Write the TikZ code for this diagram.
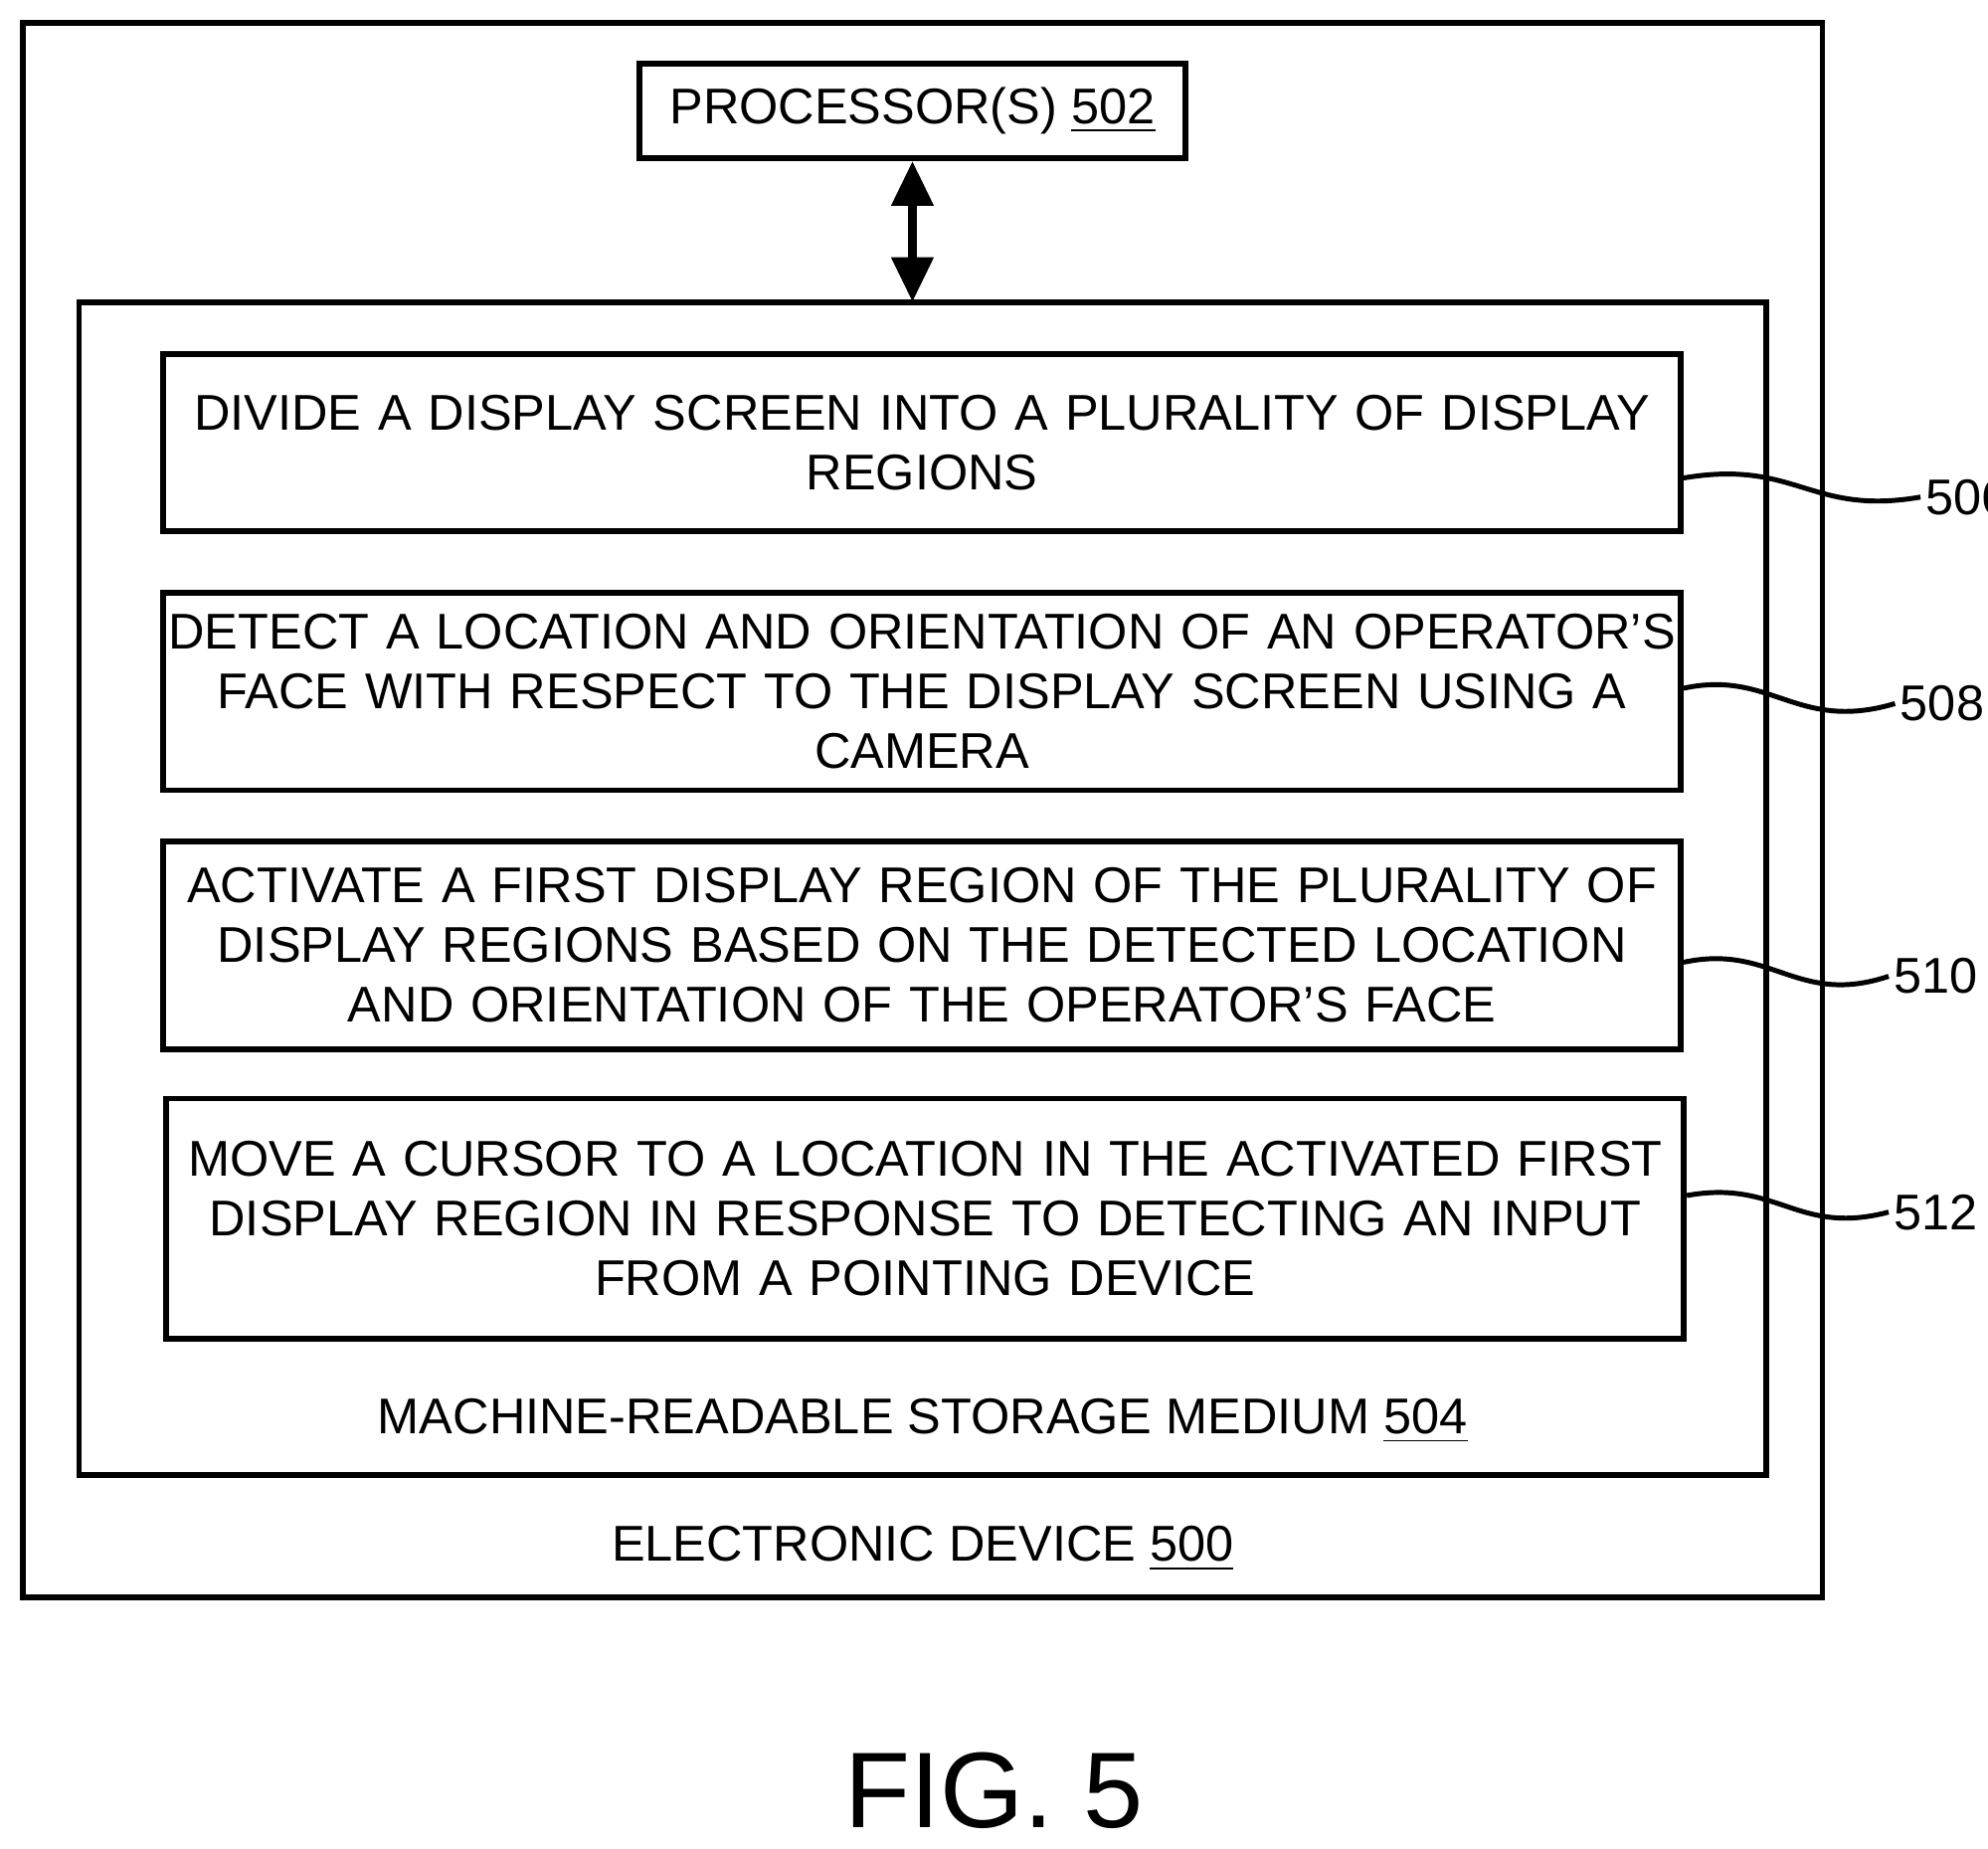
\documentclass[tikz,border=0pt]{standalone}
\usepackage{fontspec}
\setmainfont{Liberation Sans}
\usetikzlibrary{arrows.meta,positioning}
\begin{document}
\begin{tikzpicture}[x=0.01cm,y=-0.01cm,
    >={Triangle[length=10pt,width=9pt]},
    ]
% -------------------------------------------------
% Box styles
\tikzset{
  base/.style={draw, line width=1.3pt, inner sep=0pt},
  act/.style={base, align=center, text width=11.9cm, font=\fontsize{11.2}{13.4}\selectfont},
  lbl/.style={font=\fontsize{11.2}{13.4}\selectfont},
  lead/.style={line width=1.1pt},
}
\useasboundingbox (0,0) rectangle (1560,1450);
% -------------------------------------------------
% Frames
\draw[base] (18,18) rectangle (1430,1253);
\draw[base] (62,237) rectangle (1386,1157);
\node[base, minimum width=4.28cm, minimum height=0.74cm, lbl] (proc) at (716,87) {PROCESSOR(S) \underline{502}};
\coordinate (stor) at (716,237);
\draw[<->, line width=2pt] (proc) -- (stor);
% Steps
\node[act, minimum height=1.39cm] (s506) at (723.5,347.5)
  {DIVIDE A DISPLAY SCREEN INTO A PLURALITY OF DISPLAY\\REGIONS};
\node[act, minimum height=1.55cm] (s508) at (723.5,542.5)
  {DETECT A LOCATION AND ORIENTATION OF AN OPERATOR'S\\FACE WITH RESPECT TO THE DISPLAY SCREEN USING A\\CAMERA};
\node[act, minimum height=1.63cm] (s510) at (723.5,741.5)
  {ACTIVATE A FIRST DISPLAY REGION OF THE PLURALITY OF\\DISPLAY REGIONS BASED ON THE DETECTED LOCATION\\AND ORIENTATION OF THE OPERATOR'S FACE};
\node[act, minimum height=1.88cm] (s512) at (726,956)
  {MOVE A CURSOR TO A LOCATION IN THE ACTIVATED FIRST\\DISPLAY REGION IN RESPONSE TO DETECTING AN INPUT\\FROM A POINTING DEVICE};
% Reference numerals
\node[lbl, anchor=west, inner sep=1pt] (n506) at (1507,390) {506};
\node[lbl, anchor=west, inner sep=1pt] (n508) at (1487,552) {508};
\node[lbl, anchor=west, inner sep=1pt] (n510) at (1482,766) {510};
\node[lbl, anchor=west, inner sep=1pt] (n512) at (1482,951) {512};
\draw[lead] (s506.east |- 0,375) .. controls (1410,360) and (1420,405) .. (n506.west);
\draw[lead] (s508.east |- 0,540) .. controls (1390,525) and (1410,575) .. (n508.west);
\draw[lead] (s510.east |- 0,755) .. controls (1390,740) and (1410,790) .. (n510.west);
\draw[lead] (s512.east |- 0,938) .. controls (1395,925) and (1410,970) .. (n512.west);
% Captions
\node[lbl] (med) at (724,1115) {MACHINE-READABLE STORAGE MEDIUM \underline{504}};
\node[lbl] (dev) at (724,1215) {ELECTRONIC DEVICE \underline{500}};
\node[font=\fontsize{24}{28}\selectfont] (fig) at (780,1405) {FIG. 5};
% -------------------------------------------------
\end{tikzpicture}
\end{document}
